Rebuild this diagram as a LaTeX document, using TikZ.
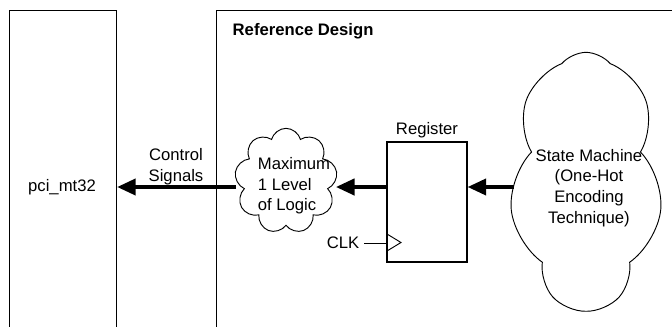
\documentclass[tikz,border=0pt]{standalone}
\usepackage{fontspec}
\setmainfont{Liberation Sans}
\usetikzlibrary{shapes.symbols,arrows.meta}

\tikzset{
  box/.style={draw, line width=0.8pt, inner sep=0pt},
  puff/.style={cloud, draw, line width=0.7pt, cloud puffs=9, cloud ignores aspect, inner sep=0pt},
  bigarrow/.style={line width=3pt, -{Triangle[length=14pt,width=12pt]}},
}

\begin{document}
\begin{tikzpicture}[x=0.75pt, y=-0.75pt, font=\fontsize{12.5}{15.5}\selectfont]
    \useasboundingbox (0,0) rectangle (672,326);
    \clip (0,0) rectangle (672,326);
    \coordinate (lane) at (0,187);

    % Blocos externos
    \node[box, anchor=north west, minimum width=80.25pt, minimum height=250pt] (pci) at (9,10) {};
    \node (pcitext) at (62,187) {pci\_mt32};
    \node[box, anchor=north west, minimum width=360pt, minimum height=250pt] (refdesign) at (216,10) {};
    \node[anchor=west, font=\fontsize{12.5}{15.5}\selectfont\bfseries] (reftitle) at (228,31) {Reference Design};

    % Nuvens de logica
    \node[puff, minimum width=77pt, minimum height=79pt] (logic) at (286,181) {};
    \node[align=left] (logictext) at (294,186) {Maximum\\1 Level\\of Logic};
    \node[puff, cloud puffs=7, cloud puff arc=100, minimum width=115pt, minimum height=193pt] (sm) at (586,181) {};
    \node[align=center] (smtext) at (589,188) {State Machine\\(One-Hot\\Encoding\\Technique)};

    % Registrador
    \node[box, minimum width=60pt, minimum height=90pt] (reg) at (427,202) {};
    \node (reglabel) at (427,130) {Register};
    \draw[line width=0.7pt] (387,234) -- (401,242.5) -- (387,251);
    \coordinate (clkin) at (387,243);
    \node[anchor=east] (clk) at (364,243) {CLK};
    \draw[line width=0.7pt] (clk.east) -- (clkin);

    % Sinais
    \draw[bigarrow] (sm.west |- lane) -- (reg.east |- lane);
    \draw[bigarrow] (reg.west |- lane) -- (logic.east |- lane);
    \draw[bigarrow] (logic.west |- lane) -- (pci.east |- lane);
    \node[align=center] (ctrl) at (176,167) {Control\\Signals};
\end{tikzpicture}
\end{document}
